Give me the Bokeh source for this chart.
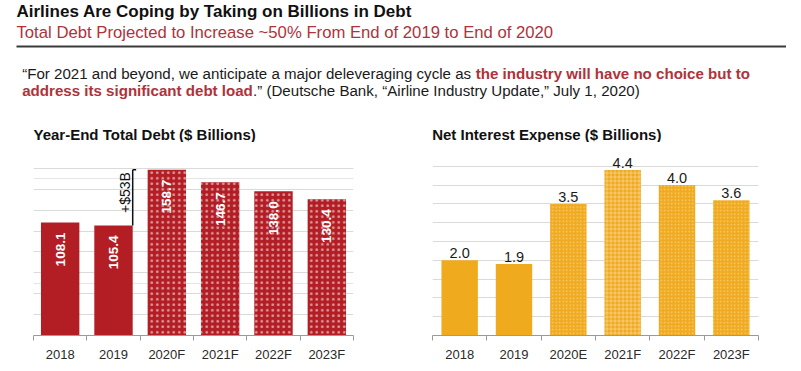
import math
from bokeh.plotting import figure
from bokeh.layouts import column, row
from bokeh.models import Range1d, FixedTicker, Grid, ColumnDataSource
from bokeh.core.properties import value
from bokeh.embed import file_html
from bokeh.resources import INLINE

# ---------------- data ----------------
debt_years = ["2018", "2019", "2020F", "2021F", "2022F", "2023F"]
debt_values = [108.1, 105.4, 158.7, 146.7, 138.0, 130.4]
debt_forecast = [False, False, True, True, True, True]

int_years = ["2018", "2019", "2020E", "2021F", "2022F", "2023F"]
int_values = [2.0, 1.9, 3.5, 4.4, 4.0, 3.6]
int_patterns = ["blank", "blank", "dot", "cross", "dot", "dot"]

title_text = "Airlines Are Coping by Taking on Billions in Debt"
subtitle_text = "Total Debt Projected to Increase ~50% From End of 2019 to End of 2020"
quote_l1_a = "\u201cFor 2021 and beyond, we anticipate a major deleveraging cycle as "
quote_l1_b = "the industry will have no choice but to"
quote_l2_a = "address its significant debt load"
quote_l2_b = ".\u201d (Deutsche Bank, \u201cAirline Industry Update,\u201d July 1, 2020)"
left_title = "Year-End Total Debt ($ Billions)"
right_title = "Net Interest Expense ($ Billions)"

FONT = value("Liberation Sans")
RED = "#B31E25"
TEXT_RED = "#B0323A"
ORANGE = "#F0AA1E"
GRID = "#DADADA"
AXIS = "#9A9A9A"

HDR_H = 142
# ---------------- header ----------------
hdr = figure(width=801, height=HDR_H, x_range=Range1d(0, 801), y_range=Range1d(HDR_H, 0),
             output_backend="svg", toolbar_location=None, x_axis_location=None,
             y_axis_location=None, min_border=0, outline_line_color=None, title=None)
hdr.grid.visible = False

def htext(x, y, t, size, color="#111111", style="normal"):
    hdr.text(x=[x], y=[y], text=[t], text_font=FONT, text_font_size=size,
             text_font_style=style, text_color=color, text_baseline="alphabetic",
             text_align="left")

htext(16, 10.8, title_text, "17px", "#111111", "bold")
htext(16, 32.3, subtitle_text, "16.7px", TEXT_RED)
hdr.line(x=[16, 785.5], y=[46, 46], line_color="#3A3A3A", line_width=2)
htext(21.7, 72.8, quote_l1_a, "15.1px", "#1A1A1A")
htext(475.2, 72.8, quote_l1_b, "15.1px", TEXT_RED, "bold")
htext(21.7, 90.3, quote_l2_a, "15.1px", TEXT_RED, "bold")
htext(252.5, 90.3, quote_l2_b, "15.1px", "#1A1A1A")
htext(33, 133.5, left_title, "15px", "#111111", "bold")
htext(431.7, 133.5, right_title, "15px", "#111111", "bold")


def make_chart(width, left, right, ymax, ystep, cats):
    n = len(cats)
    p = figure(width=width, height=371 - HDR_H, x_range=Range1d(0.5, n + 0.5),
               y_range=Range1d(0, ymax), output_backend="svg", toolbar_location=None,
               y_axis_location=None, min_border_left=left, min_border_right=right,
               min_border_top=5, min_border_bottom=36, outline_line_color=None,
               title=None)
    p.xgrid.visible = False
    ticks = []
    v = 0.0
    while v <= ymax + 1e-9:
        ticks.append(round(v, 6))
        v += ystep
    p.add_layout(Grid(dimension=1, ticker=FixedTicker(ticks=ticks),
                      grid_line_color=GRID, grid_line_width=1))
    ax = p.xaxis[0]
    ax.ticker = FixedTicker(ticks=list(range(1, n + 1)),
                            minor_ticks=[i + 0.5 for i in range(0, n + 1)])
    ax.major_label_overrides = {i + 1: c for i, c in enumerate(cats)}
    ax.major_tick_out = 0
    ax.major_tick_in = 0
    ax.minor_tick_out = 5
    ax.minor_tick_in = 0
    ax.minor_tick_line_color = AXIS
    ax.axis_line_color = AXIS
    ax.major_label_standoff = 6
    ax.major_label_text_font = "Liberation Sans"
    ax.major_label_text_font_size = "13px"
    ax.major_label_text_color = "#2A2A2A"
    return p

# ---------------- left chart ----------------
left = make_chart(400, 33, 47, 180, 20, debt_years)
xs = list(range(1, len(debt_years) + 1))
src_l = ColumnDataSource(dict(
    x=xs, top=debt_values,
    hatch=["dot" if f else "blank" for f in debt_forecast],
    label=[f"{v:.1f}" for v in debt_values]))
bw_l = 0.72
left.vbar(x="x", top="top", width=bw_l, source=src_l, fill_color=RED, line_color=None,
          hatch_pattern="hatch", hatch_color="white", hatch_scale=5.5, hatch_weight=0.6,
          hatch_alpha=0.55)
left.text(x="x", y="top", text="label", source=src_l, angle=math.pi / 2,
          text_align="right", text_baseline="middle", y_offset=10,
          text_font=FONT, text_font_size="13.5px", text_font_style="bold",
          text_color="white")
# bracket showing the increase from 2019 to 2020F
bx = xs[1] + bw_l / 2
left.segment(x0=[bx, bx], y0=[debt_values[1], debt_values[2]],
             x1=[bx, bx + 0.065], y1=[debt_values[2], debt_values[2]],
             line_color="#111111", line_width=1.5)
inc = f"+${round(debt_values[2] - debt_values[1])}B"
left.text(x=[bx], y=[(debt_values[1] + debt_values[2]) / 2], text=[inc],
          angle=math.pi / 2, text_align="center", text_baseline="middle",
          x_offset=-8, y_offset=-5, text_font=FONT, text_font_size="14px",
          text_color="#111111")

# ---------------- right chart ----------------
right = make_chart(401, 32, 43, 5.0, 0.5, int_years)
xr = list(range(1, len(int_years) + 1))
src_r = ColumnDataSource(dict(
    x=xr, top=int_values, hatch=int_patterns,
    halpha=[0.0 if h == "blank" else (0.35 if h == "cross" else 0.4) for h in int_patterns],
    hscale=[4 if h == "cross" else 3.5 for h in int_patterns],
    label=[f"{v:.1f}" for v in int_values]))
right.vbar(x="x", top="top", width=0.67, source=src_r, fill_color=ORANGE, line_color=None,
           hatch_pattern="hatch", hatch_color="white", hatch_scale="hscale", hatch_weight=1,
           hatch_alpha="halpha")
right.text(x="x", y="top", text="label", source=src_r, text_align="center",
           text_baseline="alphabetic", y_offset=-7, text_font=FONT,
           text_font_size="14.5px", text_color="#1A1A1A")

layout = column(hdr, row(left, right, spacing=0), spacing=0)

with open("out.html", "w") as f:
    f.write(file_html(layout, INLINE))
